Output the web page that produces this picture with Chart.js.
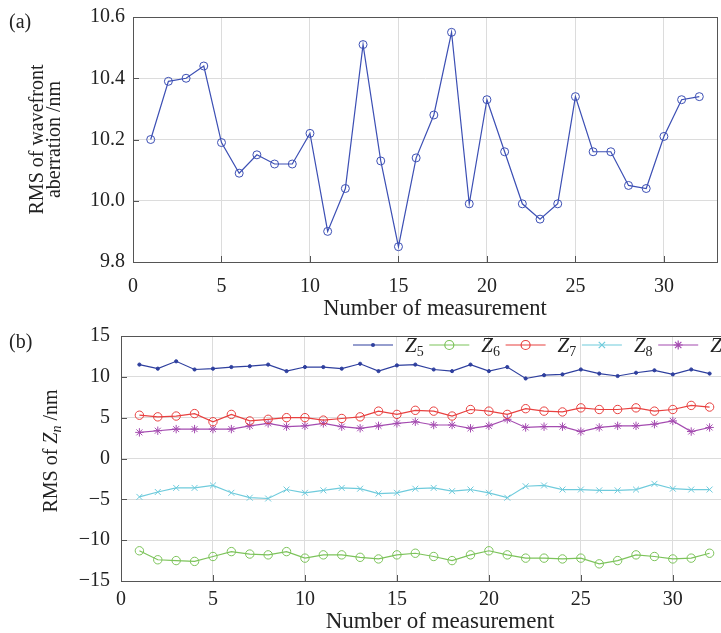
<!DOCTYPE html>
<html>
<head>
<meta charset="utf-8">
<script src="https://cdn.jsdelivr.net/npm/chart.js@4.4.0/dist/chart.umd.min.js"></script>
<style>
  html, body { margin: 0; padding: 0; background: #fff; overflow: hidden; width: 721px; height: 633px; }
  canvas { position: absolute; left: 0; }
  .tag { position: absolute; left: 9px; font: 20px "Liberation Serif", serif; color: #222; z-index: 2; }
</style>
</head>
<body>
<canvas id="chartA" width="721" height="320" style="top:0"></canvas>
<canvas id="chartB" width="740" height="313" style="top:320px"></canvas>
<div class="tag" style="top:10px">(a)</div>
<div class="tag" style="top:330px">(b)</div>
<script>
const SERIF = '"Liberation Serif", "Times New Roman", serif'
const INK = '#222'

// measurement index (x) shared by both panels
const measurementNo = [1, 2, 3, 4, 5, 6, 7, 8, 9, 10, 11, 12, 13, 14, 15, 16,
                       17, 18, 19, 20, 21, 22, 23, 24, 25, 26, 27, 28, 29, 30, 31, 32]

// (a) RMS of wavefront aberration, nm
const rmsWavefront = [10.20, 10.39, 10.40, 10.44, 10.19, 10.09, 10.15, 10.12, 10.12, 10.22, 9.90, 10.04,
                      10.51, 10.13, 9.85, 10.14, 10.28, 10.55, 9.99, 10.33, 10.16, 9.99, 9.94, 9.99,
                      10.34, 10.16, 10.16, 10.05, 10.04, 10.21, 10.33, 10.34]

// (b) RMS of Zernike terms Z5..Z9, nm
const z5 = [11.5, 11.0, 11.9, 10.9, 11.0, 11.2, 11.3, 11.5, 10.7, 11.2, 11.2, 11.0, 11.6, 10.7, 11.4, 11.5,
            10.9, 10.7, 11.5, 10.7, 11.2, 9.8, 10.2, 10.3, 10.9, 10.4, 10.1, 10.5, 10.8, 10.3, 10.9, 10.4]
const z6 = [-11.3, -12.4, -12.5, -12.6, -12.0, -11.4, -11.7, -11.8, -11.4, -12.2, -11.8, -11.8, -12.1, -12.3, -11.8, -11.6,
            -12.0, -12.5, -11.8, -11.3, -11.8, -12.2, -12.2, -12.3, -12.2, -12.9, -12.5, -11.8, -12.0, -12.3, -12.2, -11.6]
const z7 = [5.3, 5.1, 5.2, 5.5, 4.5, 5.4, 4.6, 4.8, 5.0, 5.0, 4.7, 4.9, 5.1, 5.8, 5.4, 5.9,
            5.8, 5.2, 6.0, 5.8, 5.4, 6.1, 5.8, 5.7, 6.2, 6.0, 6.0, 6.2, 5.8, 6.0, 6.5, 6.3]
const z8 = [-4.7, -4.1, -3.6, -3.6, -3.3, -4.2, -4.8, -4.9, -3.8, -4.2, -3.9, -3.6, -3.7, -4.3, -4.2, -3.7,
            -3.6, -4.0, -3.8, -4.2, -4.8, -3.4, -3.3, -3.8, -3.8, -3.9, -3.9, -3.8, -3.1, -3.7, -3.8, -3.8]
const z9 = [3.2, 3.4, 3.6, 3.6, 3.6, 3.6, 4.0, 4.3, 3.9, 4.0, 4.3, 3.9, 3.7, 4.0, 4.3, 4.5,
            4.1, 4.1, 3.7, 4.0, 4.8, 3.8, 3.9, 3.9, 3.3, 3.8, 4.0, 4.0, 4.2, 4.6, 3.3, 3.8]

const zNames = ['5', '6', '7', '8', '9']
const zColors = ['#2e3f9e', '#7cc35a', '#e8403f', '#6fcbdc', '#a44bb0']
const zMarkers = ['dot', 'circle', 'circle', 'crossRot', 'star']

function toPoints(values) {
    return measurementNo.map((x, i) => ({ x: x, y: values[i] }))
}

// full box + inward tick marks, like the original figure
const framePlugin = {
    id: 'frame',
    beforeDatasetsDraw(chart) {
        const { ctx, chartArea: a, scales } = chart
        ctx.save()
        ctx.strokeStyle = '#555'
        ctx.lineWidth = 1
        ctx.strokeRect(a.left + 0.5, a.top + 0.5, a.right - a.left, a.bottom - a.top)
        ctx.beginPath()
        scales.x.ticks.forEach(t => {
            const px = Math.round(scales.x.getPixelForValue(t.value)) + 0.5
            ctx.moveTo(px, a.bottom); ctx.lineTo(px, a.bottom - 6)
        })
        scales.y.ticks.forEach(t => {
            const py = Math.round(scales.y.getPixelForValue(t.value)) + 0.5
            ctx.moveTo(a.left, py); ctx.lineTo(a.left + 6, py)
        })
        ctx.stroke()
        ctx.restore()
    }
}

// x axis title, placed where the original has it
const xTitle = {
    id: 'xTitle',
    afterDraw(chart, args, opts) {
        const ctx = chart.ctx
        ctx.save()
        ctx.fillStyle = INK
        ctx.font = opts.size + 'px ' + SERIF
        ctx.textAlign = 'center'
        ctx.textBaseline = 'alphabetic'
        ctx.fillText('Number of measurement', opts.cx, opts.baseline)
        ctx.restore()
    }
}

function drawMarker(ctx, style, x, y, r) {
    ctx.beginPath()
    if (style === 'dot') {
        ctx.arc(x, y, 2, 0, Math.PI * 2)
        ctx.fill()
        return
    }
    if (style === 'circle') {
        ctx.arc(x, y, r, 0, Math.PI * 2)
    } else if (style === 'crossRot' || style === 'star') {
        const d = r * Math.SQRT1_2
        ctx.moveTo(x - d, y - d); ctx.lineTo(x + d, y + d)
        ctx.moveTo(x - d, y + d); ctx.lineTo(x + d, y - d)
        if (style === 'star') {
            ctx.moveTo(x, y - r); ctx.lineTo(x, y + r)
            ctx.moveTo(x - r, y); ctx.lineTo(x + r, y)
        }
    }
    ctx.stroke()
}

// legend inside the plot, with Z subscripts
const zLegend = {
    id: 'zLegend',
    afterDatasetsDraw(chart) {
        const ctx = chart.ctx
        const y = 25
        chart.data.datasets.forEach((ds, i) => {
            const x0 = 353 + i * 76.3
            ctx.save()
            ctx.strokeStyle = ds.borderColor
            ctx.fillStyle = ds.borderColor
            ctx.lineWidth = 1.2
            ctx.beginPath()
            ctx.moveTo(x0, y); ctx.lineTo(x0 + 40, y)
            ctx.stroke()
            drawMarker(ctx, zMarkers[i], x0 + 20, y, 4.5)
            ctx.fillStyle = INK
            ctx.textBaseline = 'alphabetic'
            ctx.font = 'italic 21px ' + SERIF
            ctx.fillText('Z', x0 + 52, y + 7)
            const w = ctx.measureText('Z').width
            ctx.font = '14px ' + SERIF
            ctx.fillText(zNames[i], x0 + 52 + w, y + 11)
            ctx.restore()
        })
    }
}

// y title of panel (b): RMS of Z_n /nm
const zTitle = {
    id: 'zTitle',
    afterDraw(chart) {
        const ctx = chart.ctx
        const parts = [
            ['RMS of ', '20px ' + SERIF, 0],
            ['Z', 'italic 20px ' + SERIF, 0],
            ['n', 'italic 14px ' + SERIF, 5],
            [' /nm', '20px ' + SERIF, 0]
        ]
        ctx.save()
        ctx.translate(52, 131)
        ctx.rotate(-Math.PI / 2)
        ctx.fillStyle = INK
        ctx.textBaseline = 'middle'
        let total = 0
        parts.forEach(p => { ctx.font = p[1]; total += ctx.measureText(p[0]).width })
        let x = -total / 2
        parts.forEach(p => {
            ctx.font = p[1]
            ctx.fillText(p[0], x, p[2])
            x += ctx.measureText(p[0]).width
        })
        ctx.restore()
    }
}

Chart.defaults.font.family = SERIF
Chart.defaults.color = INK

const gridStyle = { color: '#dcdcdc', drawTicks: false }

// fixed axis boxes so the plot area sits where the original has it
function fixX(height) {
    return s => { s.height = height; s.paddingLeft = 0; s.paddingRight = 0 }
}
function fixY(width) {
    return s => { s.width = width; s.paddingTop = 0; s.paddingBottom = 0 }
}

function showWavefront() {
    const config = {
        type: 'line',
        data: {
            datasets: [{
                data: toPoints(rmsWavefront),
                borderColor: '#3c4fb4',
                backgroundColor: 'rgba(0,0,0,0)',
                borderWidth: 1.2,
                pointStyle: 'circle',
                pointRadius: 4,
                pointBorderWidth: 1,
                tension: 0
            }]
        },
        options: {
            responsive: false,
            animation: false,
            devicePixelRatio: 1,
            layout: { autoPadding: false, padding: { top: 17, right: 4, left: 0, bottom: 0 } },
            plugins: {
                legend: { display: false }, tooltip: { enabled: false },
                xTitle: { cx: 435, baseline: 315, size: 22.5 }
            },
            scales: {
                x: {
                    type: 'linear', min: 0, max: 33,
                    grid: gridStyle,
                    border: { color: '#555' },
                    ticks: { stepSize: 5, includeBounds: false, padding: 13, font: { size: 20 } },
                    afterFit: fixX(58)
                },
                y: {
                    min: 9.8, max: 10.6,
                    grid: gridStyle,
                    border: { color: '#555' },
                    ticks: { stepSize: 0.2, padding: 8, font: { size: 20 }, callback: v => v.toFixed(1) },
                    title: { display: true, text: ['RMS of wavefront', 'aberration /nm'], font: { size: 20, lineHeight: '17px' }, padding: { top: 29, bottom: 0 } },
                    afterFit: fixY(133)
                }
            }
        },
        plugins: [framePlugin, xTitle]
    }
    new Chart(document.getElementById('chartA'), config)
}

function showZernike() {
    const series = [z5, z6, z7, z8, z9]
    const datasets = series.map((values, i) => ({
        label: 'Z' + zNames[i],
        data: toPoints(values),
        borderColor: zColors[i],
        backgroundColor: zMarkers[i] === 'dot' ? zColors[i] : 'rgba(0,0,0,0)',
        borderWidth: 1.2,
        pointStyle: zMarkers[i] === 'dot' ? 'circle' : zMarkers[i],
        pointRadius: zMarkers[i] === 'dot' ? 1.6 : 4.2,
        pointBorderWidth: 1,
        tension: 0
    }))
    const config = {
        type: 'line',
        data: { datasets: datasets },
        options: {
            responsive: false,
            animation: false,
            devicePixelRatio: 1,
            layout: { autoPadding: false, padding: { top: 16, right: 12, left: 0, bottom: 0 } },
            plugins: {
                legend: { display: false }, tooltip: { enabled: false },
                xTitle: { cx: 440, baseline: 308, size: 23 }
            },
            scales: {
                x: {
                    type: 'linear', min: 0, max: 33,
                    grid: gridStyle,
                    border: { color: '#555' },
                    ticks: { stepSize: 5, includeBounds: false, padding: 7, font: { size: 20 } },
                    afterFit: fixX(52)
                },
                y: {
                    min: -15, max: 15,
                    grid: gridStyle,
                    border: { color: '#555' },
                    ticks: { stepSize: 5, padding: 11, font: { size: 20 }, callback: v => String(v).replace('-', '\u2212') },
                    title: { display: false },
                    afterFit: fixY(121)
                }
            }
        },
        plugins: [framePlugin, zLegend, zTitle, xTitle]
    }
    new Chart(document.getElementById('chartB'), config)
}

showWavefront()
showZernike()
</script>
</body>
</html>
